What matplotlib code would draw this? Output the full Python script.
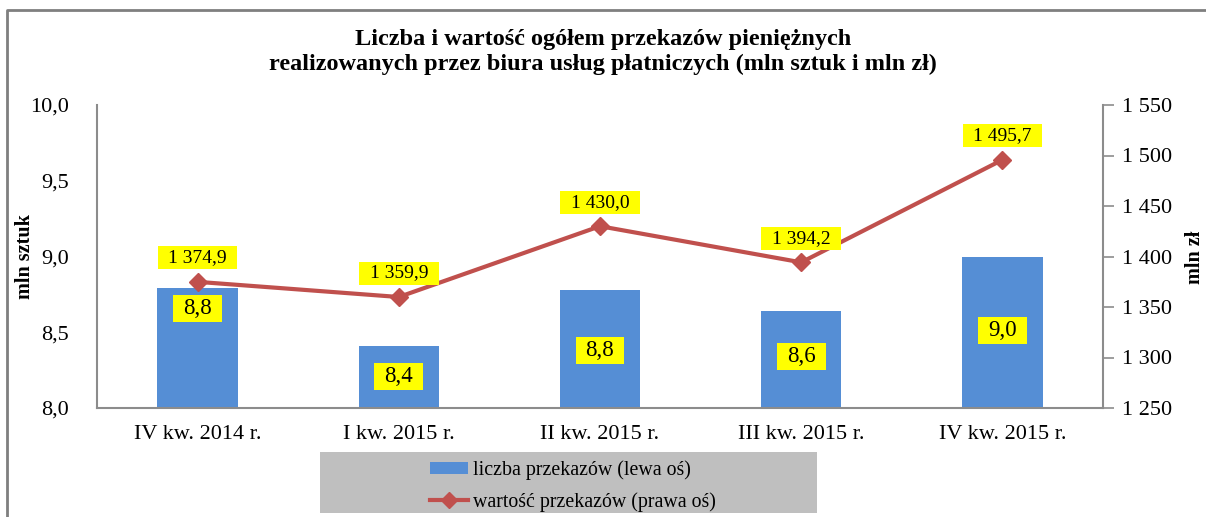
import matplotlib
matplotlib.use("Agg")
import matplotlib.pyplot as plt
from matplotlib.patches import Rectangle
from matplotlib.lines import Line2D
from matplotlib.ticker import FuncFormatter
from matplotlib.transforms import IdentityTransform

# ---- data ----
categories = ["IV kw. 2014 r.", "I kw. 2015 r.", "II kw. 2015 r.", "III kw. 2015 r.", "IV kw. 2015 r."]
count_mln = [8.79, 8.41, 8.78, 8.64, 9.00]
value_mln_zl = [1374.9, 1359.9, 1430.0, 1394.2, 1495.7]
count_labels = ["8,8", "8,4", "8,8", "8,6", "9,0"]
value_labels = ["1 374,9", "1 359,9", "1 430,0", "1 394,2", "1 495,7"]
title = "Liczba i wartość ogółem przekazów pieniężnych\nrealizowanych przez biura usług płatniczych (mln sztuk i mln zł)"
legend_labels = ["liczba przekazów (lewa oś)", "wartość przekazów (prawa oś)"]

# label placement (style) : y position of bar labels on left axis
bar_label_y = [8.66, 8.21, 8.38, 8.34, 8.51]

BAR = "#558ED5"
LINE = "#C0504D"
YEL = "#FFFF00"
GRAY = "#8C8C8C"
FONT = "Liberation Serif"

W, H = 1206, 517
plt.rcParams["font.family"] = FONT
fig = plt.figure(figsize=(W / 100, H / 100), dpi=100)

# outer frame (top and left visible)
fig.add_artist(Line2D([7 / W, 7 / W, 1.0], [0, 1 - 10 / H, 1 - 10 / H],
                      transform=fig.transFigure, color="#7F7F7F", lw=2))

ax = fig.add_axes([97 / W, 1 - 408 / H, (1103 - 97) / W, (408 - 105) / H])
x = list(range(len(categories)))
ax.bar(x, count_mln, width=0.40, color=BAR, zorder=2)
ax.set_xlim(-0.5, len(categories) - 0.5)
ax.set_ylim(8.0, 10.0)
ax.set_yticks([8.0, 8.5, 9.0, 9.5, 10.0])
ax.yaxis.set_major_formatter(FuncFormatter(lambda v, p: f"{v:.1f}".replace(".", ",")))
ax.set_xticks(x)
ax.set_xticklabels(categories)
ax.tick_params(axis="y", length=0, pad=20, labelsize=16)
ax.tick_params(axis="x", length=0, pad=12, labelsize=16)
for s in ["top", "right"]:
    ax.spines[s].set_visible(False)
for s in ["left", "bottom"]:
    ax.spines[s].set_color(GRAY)
    ax.spines[s].set_linewidth(1.5)

ax2 = ax.twinx()
ax2.plot(x, value_mln_zl, color=LINE, lw=3, marker="D", markersize=9.5, zorder=3)
ax2.set_ylim(1250, 1550)
ax2.set_yticks([1250, 1300, 1350, 1400, 1450, 1500, 1550])
ax2.yaxis.set_major_formatter(FuncFormatter(lambda v, p: f"{int(v):,}".replace(",", " ")))
ax2.tick_params(axis="y", length=8, width=1.2, color=GRAY, pad=6, labelsize=16)
for s in ["top", "left", "bottom"]:
    ax2.spines[s].set_visible(False)
ax2.spines["right"].set_color(GRAY)
ax2.spines["right"].set_linewidth(1.5)

fig.text(25 / W, 1 - 257 / H, "mln sztuk", rotation=90, ha="center", va="center",
         fontsize=14.5, fontweight="bold")
fig.text(1195 / W, 1 - 257 / H, "mln zł", rotation=90, ha="center", va="center",
         fontsize=14.5, fontweight="bold")

fig.text(603 / W, 1 - 52 / H, title, ha="center", va="center",
         fontsize=17.5, fontweight="bold", linespacing=1.28)

# data labels
texts = []
for i, (v, lab) in enumerate(zip(value_mln_zl, value_labels)):
    t = ax2.annotate(lab, (i, v), xytext=(0, 24), textcoords="offset pixels",
                     ha="center", va="center", fontsize=14, zorder=6)
    texts.append((ax2, t, 10.5, 4))
for i, (yy, lab) in enumerate(zip(bar_label_y, count_labels)):
    t = ax.text(i, yy, lab, ha="center", va="center", fontsize=16.5, zorder=6)
    texts.append((ax, t, 10, 4))

# legend
fig.add_artist(Rectangle((320 / W, 1 - 513 / H), (817 - 320) / W, (513 - 452) / H,
                         transform=fig.transFigure, facecolor="#BFBFBF", edgecolor="none", zorder=0))
handles = [Rectangle((0, 0), 1, 1, facecolor=BAR),
           Line2D([], [], color=LINE, lw=3, marker="D", markersize=8)]
fig.legend(handles, legend_labels, loc="center left", bbox_to_anchor=(430 / W, 1 - 486 / H),
           frameon=False, fontsize=14.3, handlelength=1.9, handleheight=0.6,
           handletextpad=0.25, labelspacing=0.6, borderpad=0, borderaxespad=0)

# yellow boxes behind labels
fig.canvas.draw()
r = fig.canvas.get_renderer()
for a, t, px, py in texts:
    bb = t.get_window_extent(r)
    rect = Rectangle((bb.x0 - px, bb.y0 - py + 1), bb.width + 2 * px, bb.height + 2 * py - 2,
                     transform=IdentityTransform(), facecolor=YEL, edgecolor="none",
                     zorder=5, clip_on=False)
    a.add_artist(rect)

fig.savefig("out.png", dpi=100)
